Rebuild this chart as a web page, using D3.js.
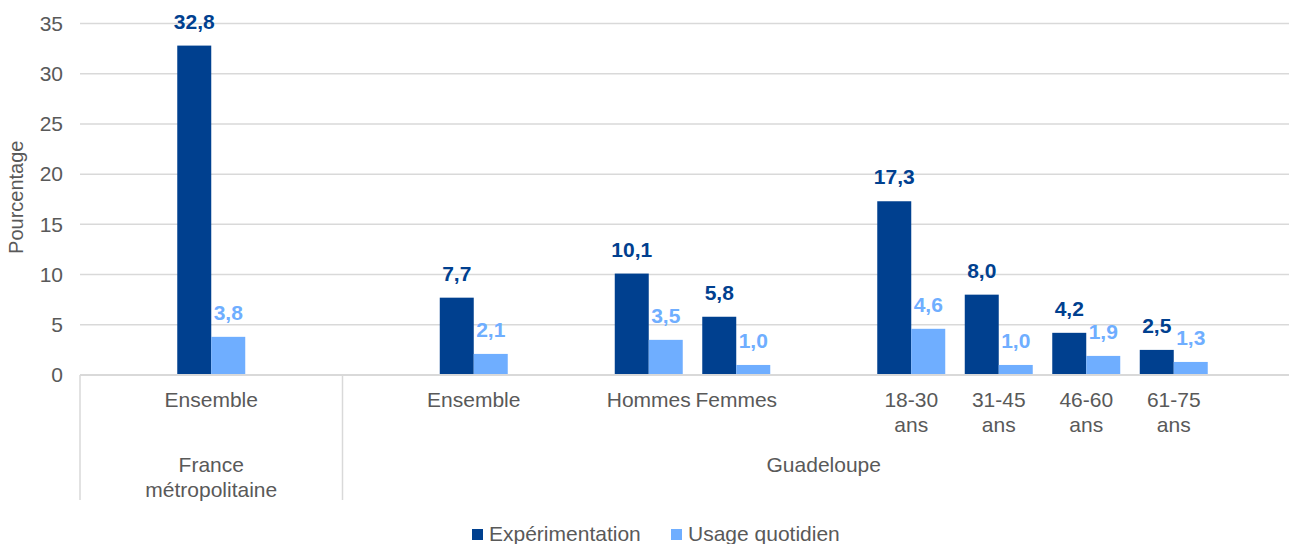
<!DOCTYPE html>
<html>
<head>
<meta charset="utf-8">
<script src="https://cdn.jsdelivr.net/npm/d3@7"></script>
<style>
  body { margin: 0; background: #fff; }
  text { font-family: "Liberation Sans", Arial, sans-serif; }
</style>
</head>
<body>
<svg width="1289" height="544"></svg>
<script>
// categories as laid out in the source sheet (blank ones are spacer slots)
var categories = ["", "Ensemble", "", "", "Ensemble", "", "Hommes", "Femmes", "", "18-30 ans", "31-45 ans", "46-60 ans", "61-75 ans", ""];
var regionOf = ["France métropolitaine", "France métropolitaine", "France métropolitaine",
  "Guadeloupe", "Guadeloupe", "Guadeloupe", "Guadeloupe", "Guadeloupe", "Guadeloupe",
  "Guadeloupe", "Guadeloupe", "Guadeloupe", "Guadeloupe", "Guadeloupe"];
var regions = ["France métropolitaine", "Guadeloupe"];

var seriesNames = ["Expérimentation", "Usage quotidien"];
var experimentation = [null, 32.8, null, null, 7.7, null, 10.1, 5.8, null, 17.3, 8.0, 4.2, 2.5, null];
var usageQuotidien = [null, 3.8, null, null, 2.1, null, 3.5, 1.0, null, 4.6, 1.0, 1.9, 1.3, null];
var yTicks = [0, 5, 10, 15, 20, 25, 30, 35];

var colors = ["#00408F", "#6FAEFF"];
var textGray = "#595959";
var gridGray = "#D9D9D9";
var fontSize = 21;

var svg = d3.select("svg");
var margin = { left: 80, top: 23.5, bottom: 375 };
var plotRight = 1305; // plot area runs slightly past the picture edge

var x = d3.scaleBand()
  .domain(d3.range(categories.length))
  .range([margin.left, plotRight])
  .padding(0);

var xs = d3.scaleBand()
  .domain(seriesNames)
  .range([0, x.bandwidth()])
  .paddingInner(0)
  .paddingOuter(0.287);

var y = d3.scaleLinear().domain([0, 35]).range([margin.bottom, margin.top]);

// gridlines
svg.append("g")
  .selectAll("line")
  .data(yTicks)
  .join("line")
  .attr("x1", margin.left)
  .attr("x2", plotRight)
  .attr("y1", function(d) { return y(d); })
  .attr("y2", function(d) { return y(d); })
  .attr("stroke", gridGray)
  .attr("stroke-width", 1.5);

// y axis labels
var yAxis = svg.append("g")
  .attr("transform", "translate(" + (margin.left - 17) + ",0)")
  .call(d3.axisLeft(y).tickValues(yTicks).tickSize(0).tickPadding(0));
yAxis.select(".domain").remove();
yAxis.selectAll("text")
  .attr("fill", textGray)
  .attr("font-size", fontSize)
  .style("font-family", "'Liberation Sans', Arial, sans-serif");

svg.append("text")
  .attr("transform", "translate(23," + (y(17.5) - 2) + ") rotate(-90)")
  .attr("text-anchor", "middle")
  .attr("fill", textGray)
  .attr("font-size", 20)
  .text("Pourcentage");

// bars
var rows = categories.map(function(c, i) {
  return { i: i, values: [experimentation[i], usageQuotidien[i]] };
}).filter(function(r) { return r.values[0] != null; });

var fmt = function(v) { return d3.format(".1f")(v).replace(".", ","); };

var cat = svg.append("g")
  .selectAll("g")
  .data(rows)
  .join("g")
  .attr("transform", function(d) { return "translate(" + x(d.i) + ",0)"; });

cat.selectAll("rect")
  .data(function(d) { return d.values.map(function(v, k) { return { k: k, v: v }; }); })
  .join("rect")
  .attr("x", function(d) { return xs(seriesNames[d.k]); })
  .attr("width", xs.bandwidth())
  .attr("y", function(d) { return y(d.v); })
  .attr("height", function(d) { return y(0) - y(d.v); })
  .attr("fill", function(d) { return colors[d.k]; });

cat.selectAll("text.val")
  .data(function(d) { return d.values.map(function(v, k) { return { k: k, v: v }; }); })
  .join("text")
  .attr("class", "val")
  .attr("x", function(d) { return xs(seriesNames[d.k]) + xs.bandwidth() / 2; })
  .attr("y", function(d) { return y(d.v) - 17; })
  .attr("text-anchor", "middle")
  .attr("font-size", fontSize)
  .attr("font-weight", "bold")
  .attr("fill", function(d) { return colors[d.k]; })
  .text(function(d) { return fmt(d.v); });

// category axis
svg.append("line")
  .attr("x1", margin.left).attr("x2", plotRight)
  .attr("y1", y(0)).attr("y2", y(0))
  .attr("stroke", gridGray).attr("stroke-width", 2);

// region separators
var regionBounds = regions.map(function(r) {
  var idx = regionOf.map(function(g, i) { return g === r ? i : -1; }).filter(function(i) { return i >= 0; });
  return { name: r, x0: x(d3.min(idx)), x1: x(d3.max(idx)) + x.bandwidth() };
});

svg.append("g")
  .selectAll("line")
  .data(regionBounds)
  .join("line")
  .attr("x1", function(d) { return d.x0; })
  .attr("x2", function(d) { return d.x0; })
  .attr("y1", y(0))
  .attr("y2", 500)
  .attr("stroke", gridGray)
  .attr("stroke-width", 1.5);

// category labels (wrap "xx-yy ans" on two lines)
var catLabels = svg.append("g")
  .selectAll("text")
  .data(categories.map(function(c, i) { return { i: i, c: c }; }).filter(function(d) { return d.c; }))
  .join("text")
  .attr("text-anchor", "middle")
  .attr("font-size", fontSize)
  .attr("fill", textGray)
  .attr("x", function(d) { return x(d.i) + x.bandwidth() / 2; })
  .attr("y", 407);

catLabels.each(function(d) {
  var parts = /\d+-\d+ ans/.test(d.c) ? d.c.split(" ") : [d.c];
  d3.select(this).selectAll("tspan")
    .data(parts)
    .join("tspan")
    .attr("x", x(d.i) + x.bandwidth() / 2)
    .attr("dy", function(p, k) { return k === 0 ? 0 : 25; })
    .text(function(p) { return p; });
});

// region labels
var regionLines = {
  "France métropolitaine": ["France", "métropolitaine"],
  "Guadeloupe": ["Guadeloupe"]
};
svg.append("g")
  .selectAll("text")
  .data(regionBounds)
  .join("text")
  .attr("text-anchor", "middle")
  .attr("font-size", fontSize)
  .attr("fill", textGray)
  .attr("y", 472)
  .each(function(d) {
    d3.select(this).selectAll("tspan")
      .data(regionLines[d.name])
      .join("tspan")
      .attr("x", (d.x0 + d.x1) / 2)
      .attr("dy", function(p, k) { return k === 0 ? 0 : 25; })
      .text(function(p) { return p; });
  });

// legend
var legendX = [472, 671];
var legend = svg.append("g")
  .selectAll("g")
  .data(seriesNames)
  .join("g")
  .attr("transform", function(d, k) { return "translate(" + legendX[k] + ",529)"; });
legend.append("rect")
  .attr("width", 11).attr("height", 11)
  .attr("fill", function(d, k) { return colors[k]; });
legend.append("text")
  .attr("x", 17)
  .attr("y", 12)
  .attr("font-size", fontSize)
  .attr("fill", textGray)
  .text(function(d) { return d; });
</script>
</body>
</html>
